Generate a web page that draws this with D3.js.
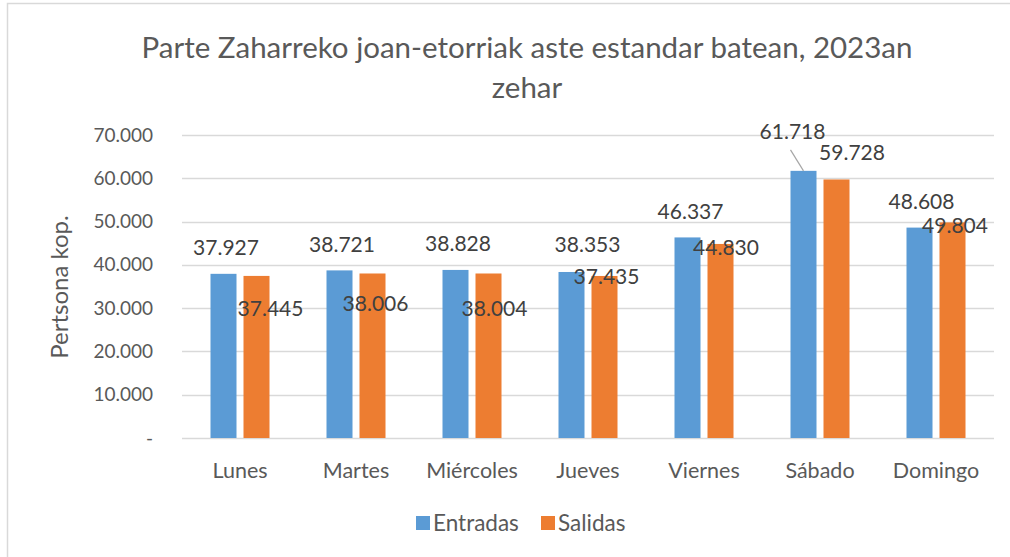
<!DOCTYPE html>
<html>
<head>
<meta charset="utf-8">
<script src="https://cdn.jsdelivr.net/npm/d3@7"></script>
<style>
  body { margin: 0; background: #fff; }
  svg { font-family: Lato, "Open Sans", sans-serif; }
</style>
</head>
<body>
<div id="chart"></div>
<script>
// chart data
var days = ["Lunes", "Martes", "Miércoles", "Jueves", "Viernes", "Sábado", "Domingo"];
var seriesNames = ["Entradas", "Salidas"];
var entradas = [37927, 38721, 38828, 38353, 46337, 61718, 48608];
var salidas = [37445, 38006, 38004, 37435, 44830, 59728, 49804];
var yTicks = [0, 10000, 20000, 30000, 40000, 50000, 60000, 70000];
var titleLines = ["Parte Zaharreko joan-etorriak aste estandar batean, 2023an", "zehar"];
var yTitle = "Pertsona kop.";

// hand-placed data label offsets (px from bar top centre), like the original
var labelOffEntradas = [[2.5, -26], [2.5, -25.5], [2.5, -26], [16, -27], [3, -25.5], [-11, -39], [2, -26]];
var labelOffSalidas = [[14, 33], [3, 30], [6, 35], [2, 1], [5.5, 4], [15.5, -26.5], [2.5, 3.5]];

var W = 1010, H = 557;
var colors = ["#5B9BD5", "#ED7D31"];
var plot = { left: 182, right: 994, top: 135, bottom: 438 };

var svg = d3.select("#chart").append("svg")
    .attr("width", W)
    .attr("height", H);

// chart frame (right/bottom edges fall outside the picture)
svg.append("rect")
    .attr("x", 7.5).attr("y", 3.5)
    .attr("width", W + 20).attr("height", H + 20)
    .attr("fill", "white")
    .attr("stroke", "#D9D9D9")
    .attr("stroke-width", 1.5);

var x = d3.scaleBand()
    .domain(days)
    .range([plot.left, plot.right]);

var y = d3.scaleLinear()
    .domain([0, 70000])
    .range([plot.bottom, plot.top]);

var fmt = function(v) {
    return v === 0 ? "-" : d3.format(",")(v).replace(/,/g, ".");
};

// gridlines
svg.append("g")
    .selectAll("line")
    .data(yTicks)
    .enter()
    .append("line")
    .attr("x1", plot.left)
    .attr("x2", plot.right)
    .attr("y1", function(d) { return Math.round(y(d)) + 0.5; })
    .attr("y2", function(d) { return Math.round(y(d)) + 0.5; })
    .attr("stroke", "#D9D9D9")
    .attr("stroke-width", 1.3);

// y axis labels
var yAxis = d3.axisLeft(y).tickValues(yTicks).tickFormat(fmt).tickSize(0).tickPadding(0);
var yg = svg.append("g")
    .attr("transform", "translate(153,0)")
    .call(yAxis);
yg.select(".domain").remove();
yg.selectAll("text")
    .attr("fill", "#595959")
    .style("font-size", "19px")
    .style("font-family", "Lato, sans-serif");

// x axis labels
var xAxis = d3.axisBottom(x).tickSize(0).tickPadding(0);
var xg = svg.append("g")
    .attr("transform", "translate(0,470)")
    .call(xAxis);
xg.select(".domain").remove();
xg.selectAll("text")
    .attr("dy", "0.35em")
    .attr("fill", "#595959")
    .style("font-size", "21.5px")
    .style("font-family", "Lato, sans-serif");

// bars
var barW = 26, innerGap = 7;
var series = [entradas, salidas];
var offsets = [labelOffEntradas, labelOffSalidas];

function barCenter(i, s) {
    var c = x(days[i]) + x.bandwidth() / 2;
    return s === 0 ? c - innerGap / 2 - barW / 2 : c + innerGap / 2 + barW / 2;
}

series.forEach(function(vals, s) {
    svg.append("g")
        .selectAll("rect")
        .data(vals)
        .enter()
        .append("rect")
        .attr("x", function(d, i) { return barCenter(i, s) - barW / 2; })
        .attr("y", function(d) { return y(d); })
        .attr("width", barW)
        .attr("height", function(d) { return y(0) - y(d); })
        .attr("fill", colors[s]);
});

// leader line for Sábado entradas
var sab = days.indexOf("Sábado");
svg.append("line")
    .attr("x1", barCenter(sab, 0) - 13)
    .attr("y1", y(entradas[sab]) - 21)
    .attr("x2", barCenter(sab, 0))
    .attr("y2", y(entradas[sab]))
    .attr("stroke", "#A6A6A6")
    .attr("stroke-width", 1.2);

// data labels
series.forEach(function(vals, s) {
    svg.append("g")
        .selectAll("text")
        .data(vals)
        .enter()
        .append("text")
        .attr("x", function(d, i) { return barCenter(i, s) + offsets[s][i][0]; })
        .attr("y", function(d, i) { return y(d) + offsets[s][i][1]; })
        .attr("dy", "0.35em")
        .attr("text-anchor", "middle")
        .attr("fill", "#404040")
        .style("font-size", "21px")
        .text(fmt);
});

// title
svg.append("g")
    .selectAll("text")
    .data(titleLines)
    .enter()
    .append("text")
    .attr("x", 527)
    .attr("y", function(d, i) { return 48 + i * 40; })
    .attr("dy", "0.35em")
    .attr("text-anchor", "middle")
    .attr("fill", "#595959")
    .style("font-size", "29.5px")
    .text(function(d) { return d; });

// y axis title
svg.append("text")
    .attr("transform", "translate(60,287) rotate(-90)")
    .attr("dy", "0.35em")
    .attr("text-anchor", "middle")
    .attr("fill", "#595959")
    .style("font-size", "24px")
    .text(yTitle);

// legend
var legendX = [416, 541];
var lg = svg.append("g")
    .selectAll("g")
    .data(seriesNames)
    .enter()
    .append("g")
    .attr("transform", function(d, i) { return "translate(" + legendX[i] + ",523)"; });
lg.append("rect")
    .attr("x", 0).attr("y", -7)
    .attr("width", 14).attr("height", 14)
    .attr("fill", function(d, i) { return colors[i]; });
lg.append("text")
    .attr("x", 17)
    .attr("dy", "0.35em")
    .attr("fill", "#595959")
    .style("font-size", "22.5px")
    .text(function(d) { return d; });
</script>
</body>
</html>
